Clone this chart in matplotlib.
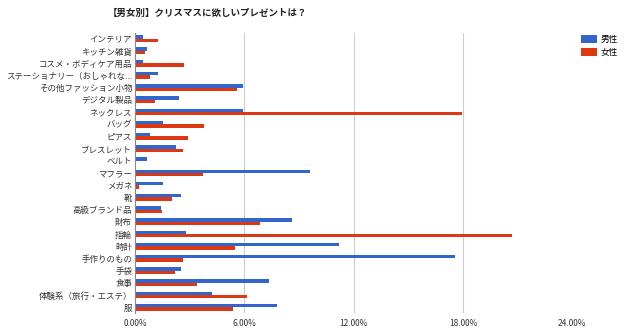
import numpy as np
import matplotlib
matplotlib.use("Agg")
import matplotlib.pyplot as plt
from matplotlib.ticker import FuncFormatter

plt.rcParams['font.family'] = ['Noto Sans CJK JP', 'DejaVu Sans']

categories = ['インテリア', 'キッチン雑貨', 'コスメ・ボディケア用品', 'ステーショナリー（おしゃれな...',
              'その他ファッション小物', 'デジタル製品', 'ネックレス', 'バッグ', 'ピアス', 'ブレスレット',
              'ベルト', 'マフラー', 'メガネ', '靴', '高級ブランド品', '財布', '指輪', '時計',
              '手作りのもの', '手袋', '食事', '体験系（旅行・エステ）', '服']
male = [0.42, 0.67, 0.42, 1.26, 5.92, 2.39, 5.92, 1.53, 0.84, 2.25,
        0.67, 9.60, 1.53, 2.54, 1.42, 8.64, 2.81, 11.18,
        17.55, 2.54, 7.36, 4.25, 7.78]
female = [1.26, 0.53, 2.70, 0.80, 5.59, 1.11, 17.97, 3.81, 2.90, 2.66,
          0.05, 3.74, 0.22, 2.04, 1.46, 6.85, 20.70, 5.50,
          2.66, 2.21, 3.41, 6.12, 5.37]
xticks = [0, 6, 12, 18, 24]

blue = '#3366cc'
red = '#dc3912'

fig = plt.figure(figsize=(6.4, 3.34), dpi=100)
ax = fig.add_axes([0.2109, 0.0617, 0.6834, 0.8407])

y = np.arange(len(categories))
h = 0.28
ax.barh(y - h / 2, male, height=h, color=blue, label='男性', zorder=3)
ax.barh(y + h / 2, female, height=h, color=red, label='女性', zorder=3)

ax.set_ylim(len(categories) - 0.5, -0.5)
ax.set_xlim(0, 24)
ax.set_yticks(y)
ax.set_yticklabels(categories, fontsize=6.1, color='#333333')
ax.set_xticks(xticks)
ax.xaxis.set_major_formatter(FuncFormatter(lambda v, p: '%.2f%%' % v))
ax.tick_params(axis='x', labelsize=6, length=0, pad=4, colors='#333333')
ax.tick_params(axis='y', length=0, pad=2)
ax.grid(axis='x', color='#cccccc', linewidth=0.8, zorder=0)
for s in ['top', 'right', 'bottom']:
    ax.spines[s].set_visible(False)
ax.spines['left'].set_color('#888888')
ax.spines['left'].set_linewidth(0.8)
ax.spines['left'].set_zorder(4)

fig.text(0.325, 0.962, '【男女別】クリスマスに欲しいプレゼントは？', fontsize=6.8,
         fontweight='bold', ha='center', va='center', color='#222222')

ax.legend(loc='upper left', bbox_to_anchor=(1.012, 1.005), frameon=False,
          fontsize=6.2, handlelength=1.8, handleheight=1.0, handletextpad=0.5,
          labelspacing=0.5, borderaxespad=0)

fig.savefig('out.png', dpi=100)
